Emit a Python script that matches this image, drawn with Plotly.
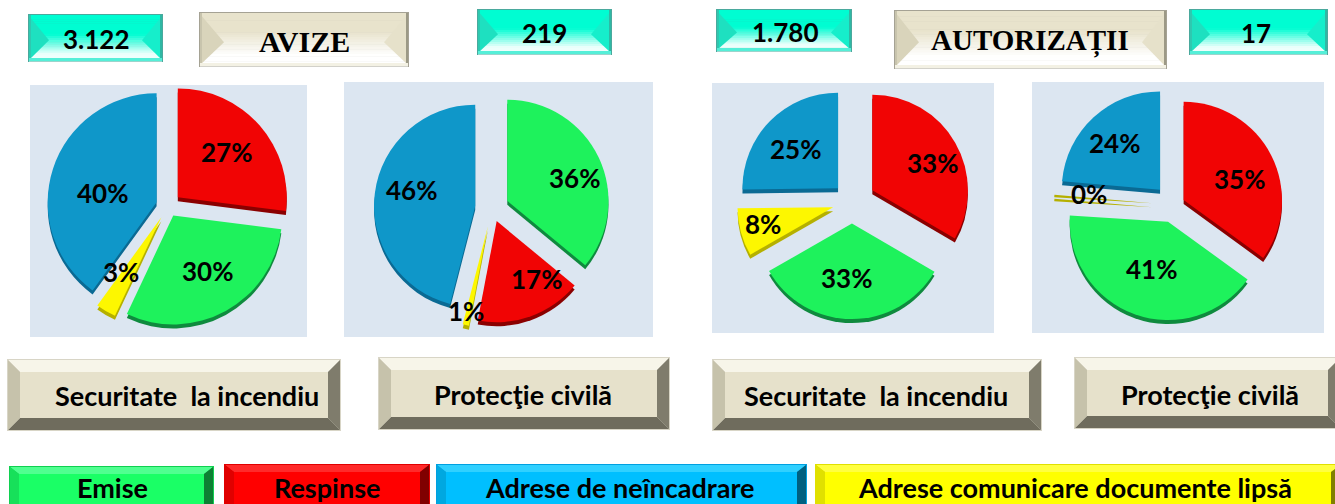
import plotly.graph_objects as go

W, H = 1335, 504

# ---------- data ----------
EMISE, RESPINSE, NEINC, LIPSA = "Emise", "Respinse", "Adrese de neîncadrare", "Adrese comunicare documente lipsă"
cat_a = [RESPINSE, EMISE, LIPSA, NEINC]
cat_b = [EMISE, RESPINSE, LIPSA, NEINC]
avize_si = [27, 30, 3, 40]
avize_pc = [36, 17, 1, 46]
autor_si = [33.4, 33.3, 8.1, 25.2]
autor_pc = [35, 41, 0.4, 23.6]
totals = ["3.122", "219", "1.780", "17"]
titles = ["AVIZE", "AUTORIZAȚII"]
subtitles = ["Securitate\u00a0\u00a0la incendiu", "Protecţie civilă"]

# ---------- styling ----------
COL = {EMISE: "#1ef25c", RESPINSE: "#f10404", NEINC: "#0f97c9", LIPSA: "#fdf700"}
DARK = {EMISE: "#0f8a3e", RESPINSE: "#8a0000", NEINC: "#0a6a94", LIPSA: "#b5b000"}

def X(p): return p / W
def Y(p): return 1 - p / H

shapes, annos = [], []

def poly(pts, color):
    path = "M " + " L ".join(f"{x},{y}" for x, y in pts) + " Z"
    shapes.append(dict(type="path", xref="x", yref="y", path=path, fillcolor=color,
                       line=dict(width=0), layer="below"))

def rect(x0, y0, x1, y1, color):
    shapes.append(dict(type="rect", xref="x", yref="y", x0=x0, y0=y0, x1=x1, y1=y1,
                       fillcolor=color, line=dict(width=0), layer="below"))

def mix(a, b, t):
    ca = [int(a[i:i + 2], 16) for i in (1, 3, 5)]
    cb = [int(b[i:i + 2], 16) for i in (1, 3, 5)]
    return "#" + "".join(f"{round(p + (q - p) * t):02x}" for p, q in zip(ca, cb))

def button(x0, y0, x1, y1, bx, bt, bb, top, left, right, bottom, centre, border=None):
    if border:
        rect(x0 - 1, y0 - 1, x1 + 1, y1 + 1, border)
    ix0, iy0, ix1, iy1 = x0 + bx, y0 + bt, x1 - bx, y1 - bb
    rect(ix0, iy0, ix1, iy1, centre)
    poly([(x0, y0), (x1, y0), (ix1, iy0), (ix0, iy0)], top)
    poly([(x0, y1), (x1, y1), (ix1, iy1), (ix0, iy1)], bottom)
    poly([(x0, y0), (ix0, iy0), (ix0, iy1), (x0, y1)], left)
    poly([(x1, y0), (ix1, iy0), (ix1, iy1), (x1, y1)], right)

def glossy(x0, y0, x1, y1, bx, c_top, c_bot, start, end, left, right, edge_l, edge_r, foot, border, stops=22):
    """Button whose body fades downward, with triangular side facets."""
    rect(x0 - 1, y0 - 1, x1 + 1, y1 + 1, border)
    h = (y1 - y0) / stops
    for i in range(stops):
        f = (i + .5) / stops
        t = min(1, max(0, (f - start) / (end - start)))
        rect(x0, y0 + i * h, x1, y0 + (i + 1) * h + .5, mix(c_top, c_bot, t))
    apex = y0 + .55 * (y1 - y0)
    poly([(x0, y0 + 1), (x0 + bx, apex), (x0, y1 - 1)], left)
    poly([(x1, y0 + 1), (x1 - bx, apex), (x1, y1 - 1)], right)
    rect(x0, y0, x0 + 2, y1, edge_l)
    rect(x1 - 2, y0, x1, y1, edge_r)
    rect(x0, y1 - 3, x1, y1, foot)

def text(x, y, s, size, family="Lato", color="black"):
    annos.append(dict(x=x, y=y, xref="x", yref="y", text=f"<b>{s}</b>", showarrow=False,
                      xanchor="center", yanchor="middle", font=dict(size=size, family=family, color=color)))

def teal(x0, y0, x1, y1, s, tx, ty):
    glossy(x0, y0, x1, y1, 20, "#00fdd2", "#eefffc", .42, .85, "#1ee0c0", "#16eecb",
           "#2fc8b0", "#2fb8a4", "#55efd8", "#4aa99d")
    text(tx, ty, s, 26)

def beige_top(x0, y0, x1, y1, s, tx, ty, size):
    glossy(x0, y0, x1, y1, 24, "#e8e3cc", "#ffffff", .35, .8, "#d9d4bb", "#e6e1ca",
           "#c8c4ad", "#9c9986", "#f3f1e4", "#a5a294")
    text(tx, ty, s, size, family="Liberation Serif")

def beige(x0, y0, x1, y1, s, tx, ty):
    button(x0, y0, x1, y1, 12, 12, 12, "#f7f5e9", "#c6c2ab", "#7f7c6c", "#6f6c5d", "#e6e1cb", border="#d8d5c6")
    text(tx, ty, s, 27)

def legend_btn(x0, y0, x1, y1, s, tx, ty, c, top, edge):
    rect(x0 - 1, y0 - 1, x1 + 1, y1, edge)
    button(x0, y0, x1, 516, 9, 7, 9, top, mix(c, "#000000", .12), mix(c, "#000000", .5), c, c)
    text(tx, ty, s, 27)

teal(29, 15, 162, 61, totals[0], 96, 39)
beige_top(200, 13, 408, 66, titles[0], 304, 41, 30)
teal(478, 10, 611, 54, totals[1], 544, 33)
teal(717, 10, 851, 51, totals[2], 785, 32)
beige_top(895, 11, 1166, 68, titles[1], 1030, 41, 29)
teal(1190, 10, 1327, 54, totals[3], 1256, 33)

beige(8, 360, 340, 430, subtitles[0], 187, 395)
beige(379, 358, 669, 429, subtitles[1], 523, 394)
beige(713, 360, 1041, 430, subtitles[0], 876, 395)
beige(1075, 358, 1340, 428, subtitles[1], 1210, 394)

legend_btn(10, 467, 213, 516, EMISE, 112, 487, "#1aff66", "#50ff90", "#10d050")
legend_btn(225, 465, 429, 516, RESPINSE, 327, 487, "#ff0000", "#ff2a2a", "#e00000")
legend_btn(437, 465, 806, 516, NEINC, 620, 487, "#00bfff", "#30d0ff", "#00a0e0")
legend_btn(816, 465, 1340, 516, LIPSA, 1075, 487, "#ffff00", "#ffff40", "#e0e000")

panels = [(30, 85, 307, 337), (344, 82, 653, 337), (712, 83, 994, 333), (1032, 82, 1324, 333)]
for p in panels:
    rect(*p, "#dce6f1")

pies = [
    (cat_a, avize_si, (168, 206), 122, [.12, .10, .12, .11], [(226, 152), (207, 271), (121, 272), (102, 193)]),
    (cat_b, avize_pc, (492, 208), 120, [.167, .137, .186, .167], [(574, 178), (536, 279), (466, 311), (411, 190)]),
    (cat_a, autor_si, (852, 202), 119, [.245, .225, .205, .205], [(932, 163), (846, 278), (763, 224), (795, 149)]),
    (cat_a, autor_pc, (1174, 205), 120, [.11, .18, .22, .21], [(1239, 179), (1151, 269), (1089, 194), (1114, 143)]),
]

fig = go.Figure()
for cats, vals, (cx, cy), half, pull, lab in pies:
    for dy, palette in ((4, DARK), (0, COL)):
        cols = [palette[c] for c in cats]
        if vals is autor_pc:
            cols = [DARK[c] if c == LIPSA else palette[c] for c in cats]
        fig.add_trace(go.Pie(
            labels=cats, values=vals, sort=False, direction="clockwise", rotation=0, pull=pull,
            marker=dict(colors=cols, line=dict(width=0)), textinfo="none", showlegend=False,
            domain=dict(x=[X(cx - half), X(cx + half)], y=[Y(cy + dy + half), Y(cy + dy - half)]),
        ))
    total = sum(vals)
    for v, (lx, ly) in zip(vals, lab):
        text(lx, ly, f"{round(v / total * 100)}%", 26)

fig.update_layout(
    width=W, height=H, margin=dict(l=0, r=0, t=0, b=0),
    paper_bgcolor="white", plot_bgcolor="rgba(0,0,0,0)", showlegend=False,
    xaxis=dict(range=[0, W], visible=False, fixedrange=True),
    yaxis=dict(range=[H, 0], visible=False, fixedrange=True),
    shapes=shapes, annotations=annos,
)
fig.write_html("out.html", config=dict(displayModeBar=False),
               post_script="document.body.style.margin='0';document.documentElement.style.overflow='hidden';")
